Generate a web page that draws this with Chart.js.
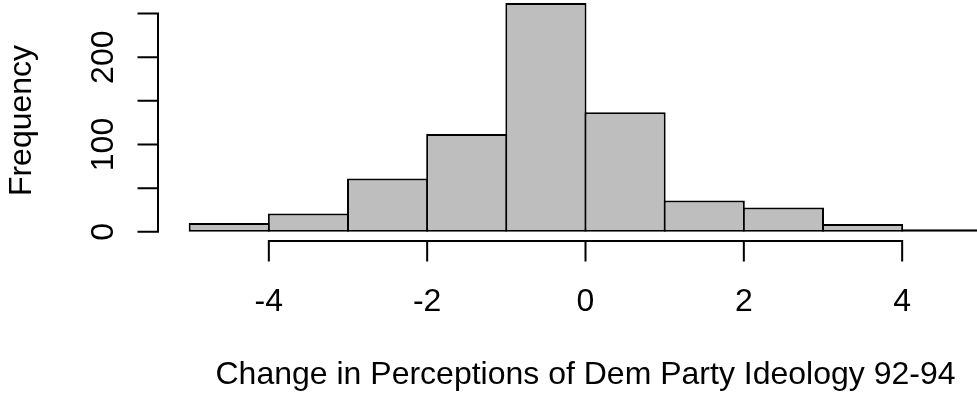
<!DOCTYPE html>
<html>
<head>
<meta charset="utf-8">
<title>Histogram</title>
<script src="https://cdn.jsdelivr.net/npm/chart.js@4.4.0/dist/chart.umd.min.js"></script>
<style>
  html, body { margin: 0; padding: 0; background: #fff; overflow: hidden; }
  #wrap { width: 977px; height: 399px; overflow: hidden; }
  #box { width: 1013px; height: 399px; }
</style>
</head>
<body>
<div id="wrap"><div id="box"><canvas id="hist"></canvas></div></div>
<script>
// histogram bins (unit width) and counts
const binStarts = [-5, -4, -3, -2, -1, 0, 1, 2, 3, 4];
const counts = [10, 21, 61, 112, 262, 137, 36, 28, 9, 3];
const xTicks = [-4, -2, 0, 2, 4];
const yTicks = [0, 50, 100, 150, 200, 250];
const yTickLabels = ['0', '', '100', '', '200', ''];
const xTitle = 'Change in Perceptions of Dem Party Ideology 92-94';
const yTitle = 'Frequency';

const FONT = 'Liberation Sans, Arial, Helvetica, sans-serif';
const FSIZE = 32;
const TICK_LEN = 19.5;

// R style axes: lines only span the tick range, drawn at plot region edge
const rAxes = {
  id: 'rAxes',
  afterDraw(chart) {
    const {ctx, chartArea, scales: {x, y}} = chart;
    ctx.save();
    ctx.strokeStyle = '#000';
    ctx.lineWidth = 2;
    ctx.lineCap = 'square';

    const ay = chartArea.bottom;
    ctx.beginPath();
    ctx.moveTo(x.getPixelForValue(xTicks[0]), ay);
    ctx.lineTo(x.getPixelForValue(xTicks[xTicks.length - 1]), ay);
    xTicks.forEach(v => {
      const px = x.getPixelForValue(v);
      ctx.moveTo(px, ay);
      ctx.lineTo(px, ay + TICK_LEN);
    });
    ctx.stroke();

    const ax = chartArea.left;
    ctx.beginPath();
    ctx.moveTo(ax, y.getPixelForValue(yTicks[0]));
    ctx.lineTo(ax, y.getPixelForValue(yTicks[yTicks.length - 1]));
    yTicks.forEach(v => {
      const py = y.getPixelForValue(v);
      ctx.moveTo(ax, py);
      ctx.lineTo(ax - TICK_LEN, py);
    });
    ctx.stroke();

    // rotated y tick labels (parallel to axis)
    ctx.fillStyle = '#000';
    ctx.font = FSIZE + 'px ' + FONT;
    ctx.textAlign = 'center';
    ctx.textBaseline = 'alphabetic';
    yTicks.forEach((v, i) => {
      if (!yTickLabels[i]) return;
      ctx.save();
      ctx.translate(ax - 45, y.getPixelForValue(v));
      ctx.rotate(-Math.PI / 2);
      ctx.fillText(yTickLabels[i], 0, 0);
      ctx.restore();
    });
    ctx.restore();
  }
};

new Chart(document.getElementById('hist'), {
  type: 'bar',
  data: {
    datasets: [{
      data: binStarts.map((b, i) => ({x: b + 0.5, y: counts[i]})),
      backgroundColor: '#bebebe',
      borderColor: '#000',
      borderWidth: 2,
      borderSkipped: false,
      barPercentage: 1.025,
      categoryPercentage: 1,
      grouped: false
    }]
  },
  options: {
    responsive: true,
    maintainAspectRatio: false,
    animation: false,
    layout: { padding: 0 },
    plugins: { legend: { display: false }, tooltip: { enabled: false } },
    scales: {
      x: {
        type: 'linear',
        min: -5.4,
        max: 5.4,
        offset: false,
        grid: { display: false, drawTicks: false, offset: false },
        border: { display: false },
        afterBuildTicks: s => { s.ticks = xTicks.map(v => ({value: v})); },
        afterFit: s => { s.height = 158; s.paddingLeft = 0; s.paddingRight = 0; },
        ticks: {
          color: '#000',
          font: { family: FONT, size: FSIZE },
          padding: 42,
          maxRotation: 0,
          autoSkip: false
        },
        title: {
          display: true,
          text: xTitle,
          color: '#000',
          font: { family: FONT, size: FSIZE },
          padding: { top: 0, bottom: 5 }
        }
      },
      y: {
        min: -10.48,
        max: 265.5,
        grid: { display: false, drawTicks: false },
        border: { display: false },
        afterBuildTicks: s => { s.ticks = yTicks.map(v => ({value: v})); },
        afterFit: s => { s.width = 158; s.paddingTop = 0; s.paddingBottom = 0; },
        ticks: { display: false },
        title: {
          display: true,
          text: yTitle,
          color: '#000',
          font: { family: FONT, size: FSIZE },
          padding: { top: 3, bottom: 0 }
        }
      }
    }
  },
  plugins: [rAxes]
});
</script>
</body>
</html>
